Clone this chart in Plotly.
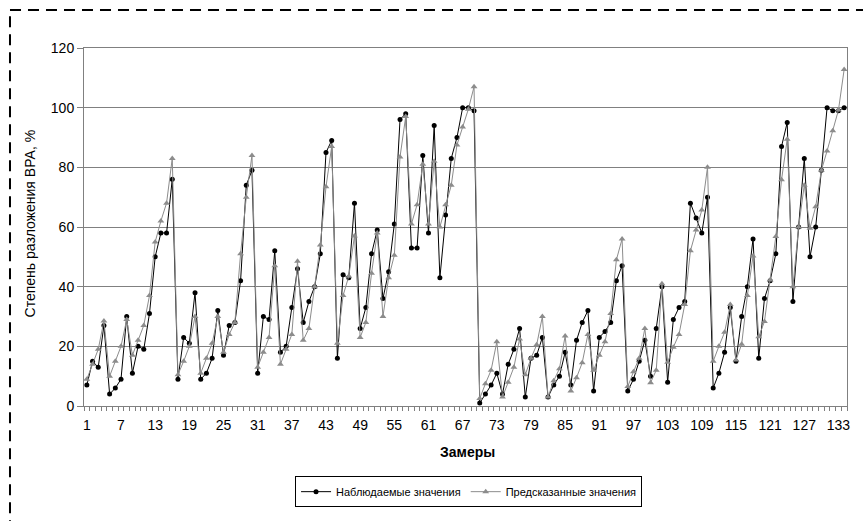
import plotly.graph_objects as go

observed = [7, 15, 13, 27, 4, 6, 9, 30, 11, 20, 19, 31, 50, 58, 58, 76, 9,
            23, 21, 38, 9, 11, 16, 32, 17, 27, 28, 42, 74, 79, 11, 30, 29, 52,
            18, 20, 33, 46, 28, 35, 40, 51, 85, 89, 16, 44, 43, 68, 26, 33,
            51, 59, 36, 45, 61, 96, 98, 53, 53, 84, 58, 94, 43, 64, 83, 90, 100, 100, 99,
            1, 4, 7, 11, 4, 14, 19, 26, 3, 16, 17, 23, 3, 7, 10,
            18, 7, 22, 28, 32, 5, 23, 25, 28, 42, 47, 5, 9, 15, 22, 10,
            26, 40, 8, 29, 33, 35, 68, 63, 58, 70, 6, 11, 18, 33, 15, 30, 40,
            56, 16, 36, 42, 51, 87, 95, 35, 60, 83, 50, 60, 79, 100, 99, 99, 100]

predicted = [9, 14, 19, 28.5, 10, 15, 20, 29, 17, 22, 27, 37, 55, 62, 68, 83, 10.5,
             15, 20, 30, 11, 16, 21, 30, 18, 24, 28, 51, 70, 84, 13, 18, 23, 47,
             14, 19, 24, 48.5, 22, 26, 40, 54, 73.5, 87, 21, 37, 43.5, 57, 23, 28,
             44.5, 58, 30, 43, 50.5, 83.5, 97, 61, 67.5, 81, 61, 82, 60, 67.5, 74, 87.5, 93.5, 99.5, 107,
             2.5, 7.5, 12, 21.5, 3, 8, 13, 22.5, 10.5, 16, 20.5, 30, 3, 8.5, 12.5,
             23.5, 5, 9.5, 14.5, 24, 12, 17, 21.5, 31, 49, 56, 6.5, 11.5, 16, 26, 7.8,
             12, 41, 14.7, 19.7, 24, 34, 52, 59, 65.7, 80, 15, 20, 24.7, 34, 15.4, 20.7, 37,
             50.3, 23.2, 28.3, 42.2, 56.8, 75.8, 89.4, 40, 60, 74, 59.6, 66.8, 79, 85.5, 92.3, 99.2, 112.8]

samples = list(range(1, len(observed) + 1))
x_tick_labels = list(range(1, 134, 6))

FONT = "Liberation Sans, Arial, sans-serif"

fig = go.Figure()
fig.add_trace(go.Scatter(
    x=samples, y=observed, mode="lines+markers", name="Наблюдаемые значения",
    line=dict(color="#000000", width=1),
    marker=dict(symbol="circle", size=5, color="#000000"),
))
fig.add_trace(go.Scatter(
    x=samples, y=predicted, mode="lines+markers", name="Предсказанные значения",
    line=dict(color="#8c8c8c", width=1),
    marker=dict(symbol="triangle-up", size=6, color="#8c8c8c"),
))

fig.update_layout(
    width=863, height=521,
    margin=dict(l=84, r=16, t=48, b=115),
    paper_bgcolor="white", plot_bgcolor="white",
    font=dict(family=FONT, size=13, color="#000000"),
    showlegend=True,
    legend=dict(
        orientation="h", x=0.504, xanchor="center", y=-0.196, yanchor="top",
        bordercolor="#000000", borderwidth=1, font=dict(size=11),
        itemwidth=30, tracegroupgap=0,
    ),
    xaxis=dict(
        range=[0.5, len(observed) + 0.5],
        tickmode="array", tickvals=x_tick_labels, ticktext=[str(v) for v in x_tick_labels],
        ticks="", showgrid=False, zeroline=False,
        showline=True, linecolor="#808080", linewidth=1, mirror=True,
        minor=dict(ticks="outside", tick0=0.5, dtick=1, ticklen=4, tickcolor="#808080", showgrid=False),
        tickfont=dict(size=14),
        ticklabelstandoff=6,
    ),
    yaxis=dict(
        range=[0, 120], dtick=20, tick0=0,
        showgrid=True, gridcolor="#808080", gridwidth=1, zeroline=False,
        showline=True, linecolor="#808080", linewidth=1, mirror=True,
        ticks="outside", ticklen=6, tickcolor="#808080",
        tickfont=dict(size=14),
    ),
    annotations=[
        dict(text="Степень разложения ВРА, %", xref="paper", yref="paper",
             x=-0.0708, y=0.51, xanchor="center", yanchor="middle",
             textangle=-90, showarrow=False, font=dict(size=14)),
        dict(text="<b>Замеры</b>", xref="paper", yref="paper",
             x=0.503, y=-0.128, xanchor="center", yanchor="middle",
             showarrow=False, font=dict(size=14)),
    ],
    shapes=[
        dict(type="line", xref="paper", yref="paper",
             x0=-0.097, x1=-0.097, y0=-0.35, y1=1.106,
             line=dict(color="#000000", width=2, dash="11px,7px")),
        dict(type="line", xref="paper", yref="paper",
             x0=-0.097, x1=1.1, y0=1.106, y1=1.106,
             line=dict(color="#000000", width=2, dash="11px,7px")),
    ],
)

fig.write_html("out.html")
